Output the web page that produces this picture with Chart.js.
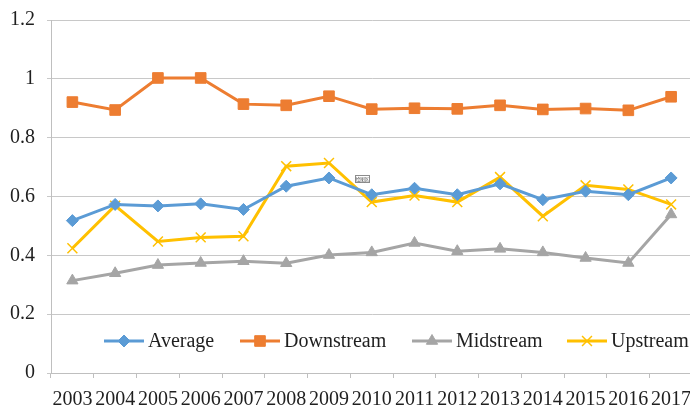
<!DOCTYPE html>
<html>
<head>
<meta charset="utf-8">
<script src="https://cdn.jsdelivr.net/npm/chart.js@4/dist/chart.umd.min.js"></script>
<style>
  html, body { margin: 0; padding: 0; background: #ffffff; overflow: hidden; }
  #wrap { width: 701px; height: 410px; position: relative; }
  #pre { position: absolute; left: -1000px; top: 0; font-family: "Noto Sans CJK SC"; font-size: 6px; }
  #pre2 { position: absolute; left: -1000px; top: 20px; font-family: "Liberation Serif"; font-size: 20px; }
</style>
</head>
<body>
<span id="pre">绘图区</span><span id="pre2">Average 2003</span>
<div id="wrap"><canvas id="c"></canvas></div>
<script>
const years = ['2003','2004','2005','2006','2007','2008','2009','2010','2011','2012','2013','2014','2015','2016','2017'];
const average    = [0.518,0.573,0.568,0.575,0.556,0.635,0.663,0.606,0.628,0.606,0.643,0.589,0.618,0.606,0.663];
const downstream = [0.921,0.894,1.003,1.003,0.914,0.910,0.941,0.897,0.900,0.898,0.910,0.896,0.899,0.893,0.939];
const midstream  = [0.314,0.339,0.367,0.374,0.380,0.373,0.401,0.410,0.442,0.414,0.422,0.410,0.391,0.374,0.539];
const upstream   = [0.424,0.569,0.447,0.461,0.465,0.703,0.714,0.581,0.603,0.581,0.666,0.533,0.638,0.624,0.573];
const yTicks = [0, 0.2, 0.4, 0.6, 0.8, 1, 1.2];
const seriesNames = ['Average','Downstream','Midstream','Upstream'];

const FONT = "'Liberation Serif', 'Times New Roman', serif";
const TEXT = '#1f1f1f';
const colors = ['#5B9BD5','#ED7D31','#A5A5A5','#FFC000'];
const styles = [
  { pointStyle: 'rectRot', r: 6, bw: 1 },
  { pointStyle: 'rect', r: 7.5, bw: 1 },
  { pointStyle: 'triangle', r: 6.5, bw: 1 },
  { pointStyle: 'crossRot', r: 7, bw: 1.5 }
];
const values = [average, downstream, midstream, upstream];

const datasets = values.map((v, i) => ({
  label: seriesNames[i],
  data: v,
  borderColor: colors[i],
  backgroundColor: colors[i],
  borderWidth: 3,
  pointStyle: styles[i].pointStyle,
  pointRadius: styles[i].r,
  pointBorderWidth: styles[i].bw,
  pointBackgroundColor: colors[i],
  pointBorderColor: colors[i],
  tension: 0,
  fill: false
}));

const legendPlugin = {
  id: 'customLegend',
  afterDraw(chart) {
    const ctx = chart.ctx;
    const y = 341;
    const starts = [104, 240, 412, 567];
    ctx.save();
    chart.data.datasets.forEach((ds, i) => {
      const x0 = starts[i];
      ctx.strokeStyle = ds.borderColor;
      ctx.lineWidth = 3;
      ctx.beginPath();
      ctx.moveTo(x0, y);
      ctx.lineTo(x0 + 40, y);
      ctx.stroke();
      ctx.fillStyle = ds.borderColor;
      ctx.strokeStyle = ds.borderColor;
      ctx.lineWidth = ds.pointBorderWidth;
      Chart.helpers.drawPoint(ctx, { pointStyle: ds.pointStyle, radius: ds.pointRadius, borderWidth: ds.pointBorderWidth, rotation: 0 }, x0 + 20, y);
      ctx.fillStyle = TEXT;
      ctx.font = '20px ' + FONT;
      ctx.textBaseline = 'middle';
      ctx.textAlign = 'left';
      ctx.fillText(ds.label, x0 + 44, y + 1);
    });
    ctx.fillStyle = '#ffffff';
    ctx.strokeStyle = '#8c8c8c';
    ctx.lineWidth = 1;
    ctx.fillRect(355.5, 175.5, 14, 7);
    ctx.strokeRect(355.5, 175.5, 14, 7);
    ctx.fillStyle = '#555';
    ctx.font = '4.5px "Noto Sans CJK SC"';
    ctx.textAlign = 'center';
    ctx.textBaseline = 'middle';
    ctx.fillText('绘图区', 362.5, 179.3);
    ctx.restore();
  }
};

function build() {
  new Chart(document.getElementById('c'), {
    type: 'line',
    data: { labels: years, datasets },
    options: {
      responsive: true,
      maintainAspectRatio: false,
      animation: false,
      events: [],
      layout: { padding: { top: 20, right: 1.6, bottom: 0, left: 0 } },
      plugins: { legend: { display: false }, tooltip: { enabled: false } },
      scales: {
        x: {
          offset: true,
          grid: { display: true, offset: true, drawOnChartArea: false, drawTicks: true, tickLength: 5, color: '#BFBFBF' },
          border: { display: true, color: '#BFBFBF', width: 1 },
          ticks: { color: TEXT, font: { family: FONT, size: 20 }, padding: 10, maxRotation: 0, autoSkip: false },
          afterFit(s) { s.height = 37; s.paddingLeft = 0; s.paddingRight = 0; }
        },
        y: {
          min: 0, max: 1.2,
          afterBuildTicks(s) { s.ticks = yTicks.map(v => ({ value: v })); },
          grid: { color: '#C8C8C8', lineWidth: 1, drawTicks: true, tickLength: 4 },
          border: { display: true, color: '#BFBFBF', width: 1 },
          ticks: {
            color: TEXT, font: { family: FONT, size: 20 }, padding: 12,
            callback: (v) => String(+Number(v).toFixed(1))
          },
          afterFit(s) { s.width = 51; s.paddingTop = 0; s.paddingBottom = 0; }
        }
      }
    },
    plugins: [legendPlugin]
  });
}

Promise.all([
  document.fonts.load('6px "Noto Sans CJK SC"', '绘图区'),
  document.fonts.load('20px "Liberation Serif"', 'Average')
]).then(build, build);
</script>
</body>
</html>
